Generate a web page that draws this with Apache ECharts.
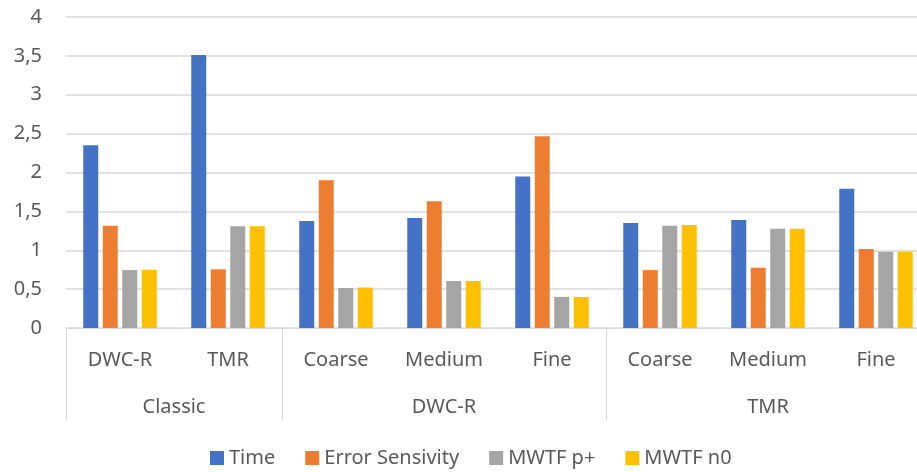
<!DOCTYPE html>
<html>
<head>
<meta charset="utf-8">
<script src="https://cdn.jsdelivr.net/npm/echarts@6/dist/echarts.min.js"></script>
<style>
  html, body { margin: 0; padding: 0; background: #fff; overflow: hidden; }
  #chart { width: 917px; height: 472px; }
</style>
</head>
<body>
<div id="chart"></div>
<script>
// Inner categories, grouped by technique
const categories = ['DWC-R', 'TMR', 'Coarse', 'Medium', 'Fine', 'Coarse', 'Medium', 'Fine'];
// Outer groups: name, first category index, number of categories
const groups = [
  { name: 'Classic', start: 0, count: 2 },
  { name: 'DWC-R', start: 2, count: 3 },
  { name: 'TMR', start: 5, count: 3 }
];
const yTicks = [0, 0.5, 1, 1.5, 2, 2.5, 3, 3.5, 4];

const timeValues = [2.35, 3.51, 1.375, 1.415, 1.95, 1.35, 1.39, 1.79];
const errorSensivity = [1.315, 0.755, 1.90, 1.63, 2.465, 0.745, 0.775, 1.015];
const mwtfP = [0.745, 1.31, 0.515, 0.605, 0.40, 1.315, 1.275, 0.98];
const mwtfN0 = [0.75, 1.31, 0.52, 0.605, 0.40, 1.325, 1.275, 0.98];

const seriesNames = ['Time', 'Error Sensivity', 'MWTF p+', 'MWTF n0'];
const seriesValues = [timeValues, errorSensivity, mwtfP, mwtfN0];
const colors = ['#4472C4', '#ED7D31', '#A5A5A5', '#FFC000'];

const textColor = '#595959';
const lineColor = '#d9d9d9';
const font = '"Noto Sans", "Open Sans", sans-serif';

// Group label positions (centre of each group) and separator positions on a 0..n scale
const groupCenters = groups.map(g => g.start + g.count / 2);
const groupEdges = [0].concat(groups.map(g => g.start + g.count));

const chart = echarts.init(document.getElementById('chart'));
chart.setOption({
  animation: false,
  color: colors,
  // plot area runs slightly past the right edge of the canvas
  grid: { left: 66, right: -13, top: 17, bottom: 144, containLabel: false, outerBoundsMode: 'none' },
  legend: {
    bottom: -1,
    left: 205,
    itemWidth: 14,
    itemHeight: 14,
    itemGap: 30,
    itemTextGap: 8,
    icon: 'rect',
    textStyle: { color: textColor, fontSize: 20, fontFamily: font },
    data: seriesNames
  },
  xAxis: [
    {
      type: 'category',
      data: categories,
      position: 'bottom',
      axisLine: { show: true, lineStyle: { color: lineColor, width: 1 } },
      axisTick: { show: false },
      axisLabel: { color: textColor, fontSize: 20, fontFamily: font, margin: 22, interval: 0 }
    },
    {
      type: 'value',
      min: 0,
      max: categories.length,
      interval: 0.5,
      position: 'bottom',
      axisLine: { show: false },
      splitLine: { show: false },
      axisTick: {
        show: true,
        inside: false,
        length: 92,
        customValues: groupEdges,
        lineStyle: { color: lineColor, width: 1 }
      },
      axisLabel: {
        color: textColor,
        fontSize: 20,
        fontFamily: font,
        margin: 69,
        customValues: groupCenters,
        showMinLabel: true,
        showMaxLabel: true,
        formatter: function (v) {
          const i = groupCenters.indexOf(v);
          return i >= 0 ? groups[i].name : '';
        }
      }
    }
  ],
  yAxis: {
    type: 'value',
    min: 0,
    max: 4,
    interval: 0.5,
    axisLine: { show: false },
    axisTick: { show: false },
    splitLine: { lineStyle: { color: lineColor, width: 1.5 } },
    axisLabel: {
      color: textColor,
      fontSize: 20,
      fontFamily: font,
      margin: 24,
      formatter: function (v) {
        return yTicks.indexOf(v) >= 0 ? String(v).replace('.', ',') : '';
      }
    }
  },
  series: seriesNames.map((name, i) => ({
    name: name,
    type: 'bar',
    xAxisIndex: 0,
    barWidth: 15,
    barGap: '30%',
    data: seriesValues[i],
    itemStyle: { color: colors[i] }
  }))
});
</script>
</body>
</html>
